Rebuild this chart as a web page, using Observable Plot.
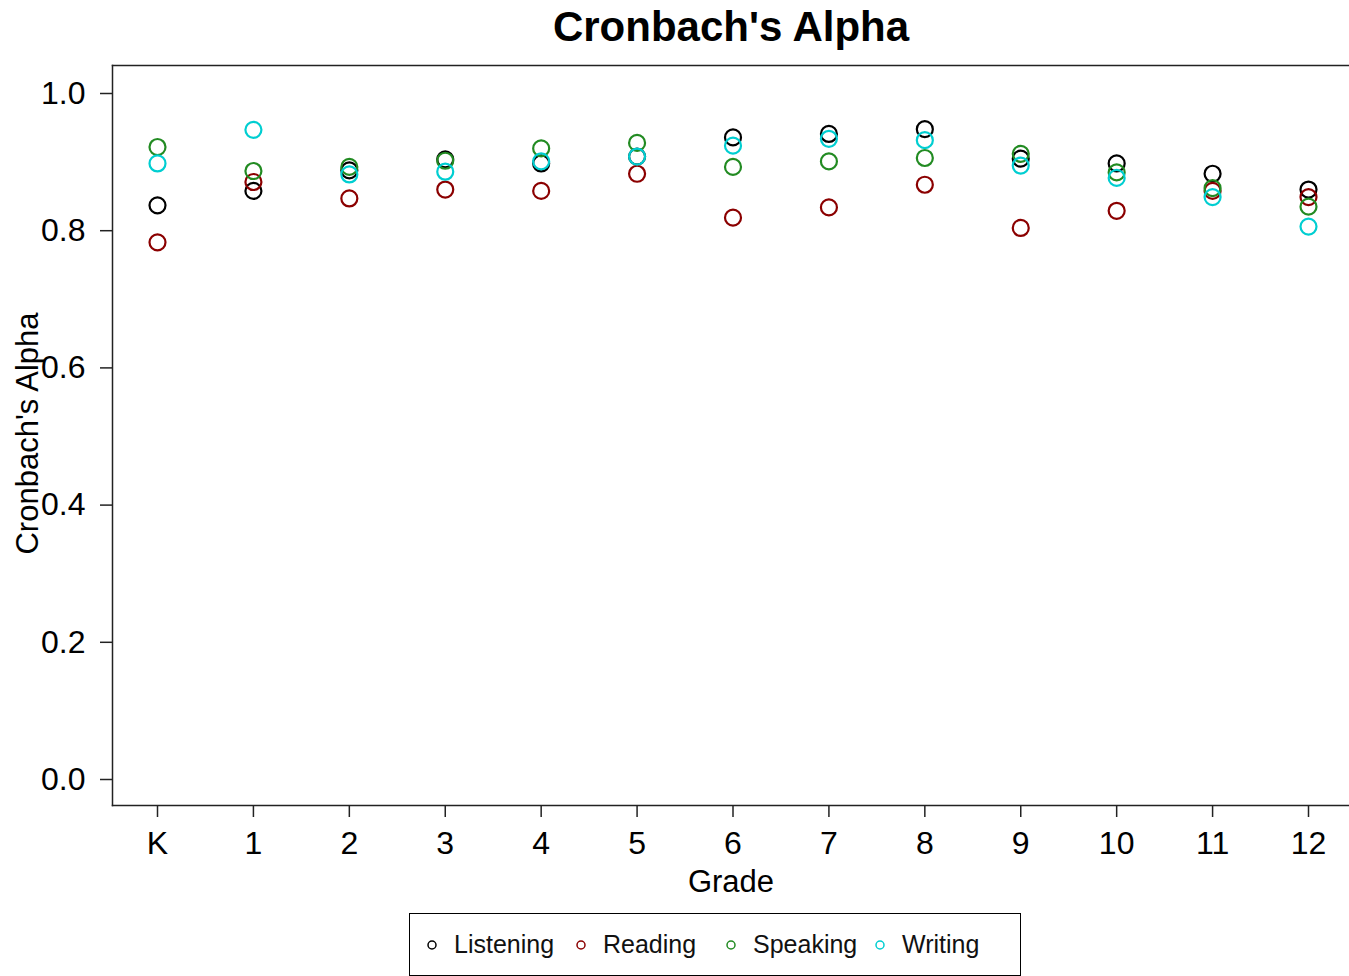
<!DOCTYPE html>
<html>
<head>
<meta charset="utf-8">
<script src="https://cdn.jsdelivr.net/npm/d3@7"></script>
<script src="https://cdn.jsdelivr.net/npm/@observablehq/plot@0.6"></script>
<style>
  html, body { margin: 0; padding: 0; background: #fff; overflow: hidden; }
  #wrap { position: relative; width: 1349px; height: 976px; font-family: "Liberation Sans", Arial, sans-serif; }
  #title { position: absolute; left: 0; width: 1462px; top: 2px; text-align: center; font-weight: bold; font-size: 42px; line-height: 50px; color: #000; }
  #chart { position: absolute; left: 0; top: 0; }
  #legend { position: absolute; left: 409px; top: 913px; width: 610px; height: 61px; border: 1.5px solid #000; font-size: 25px; color: #111; }
  .item { position: absolute; top: 0; height: 61px; display: flex; align-items: center; }
  .item svg { margin-right: 16px; }
</style>
</head>
<body>
<div id="wrap">
  <div id="chart"></div>
  <div id="title">Cronbach's Alpha</div>
  <div id="legend"></div>
</div>
<script>
const grades = ["K","1","2","3","4","5","6","7","8","9","10","11","12"];
const seriesNames = ["Listening","Reading","Speaking","Writing"];
const seriesColors = ["#000000","#8B0000","#228B22","#00CED1"];
const listening = [0.837, 0.858, 0.888, 0.904, 0.898, 0.908, 0.936, 0.941, 0.948, 0.905, 0.898, 0.883, 0.860];
const reading   = [0.783, 0.871, 0.847, 0.860, 0.858, 0.883, 0.819, 0.834, 0.867, 0.804, 0.829, 0.858, 0.849];
const speaking  = [0.922, 0.887, 0.893, 0.902, 0.920, 0.928, 0.893, 0.901, 0.906, 0.912, 0.885, 0.862, 0.835];
const writing   = [0.898, 0.947, 0.882, 0.886, 0.901, 0.908, 0.924, 0.934, 0.932, 0.895, 0.877, 0.849, 0.806];
const yTicks = [0, 0.2, 0.4, 0.6, 0.8, 1.0];

const seriesValues = [listening, reading, speaking, writing];
const data = [];
seriesNames.forEach((s, i) => {
  grades.forEach((g, j) => data.push({series: s, grade: g, value: seriesValues[i][j]}));
});

const chart = Plot.plot({
  width: 1349,
  height: 905,
  marginLeft: 112,
  marginRight: 0,
  marginTop: 65,
  marginBottom: 100,
  style: {fontFamily: "Liberation Sans, Arial, sans-serif", background: "#fff", color: "#000"},
  x: {type: "point", domain: grades, range: [157, 1308], padding: 0, round: false, label: null},
  y: {domain: [0, 1], range: [779, 93], label: null},
  color: {domain: seriesNames, range: seriesColors},
  marks: [
    Plot.frame({anchor: "top", stroke: "#222", strokeWidth: 1.5}),
    Plot.frame({anchor: "left", stroke: "#222", strokeWidth: 1.5}),
    Plot.frame({anchor: "bottom", stroke: "#222", strokeWidth: 1.5}),
    Plot.axisY({ticks: yTicks, tickSize: 12, tickPadding: 15, tickFormat: d => d.toFixed(1), fontSize: 32, stroke: "#222", strokeWidth: 1.5, label: null}),
    Plot.axisX({tickSize: 12, tickPadding: 14, fontSize: 32, stroke: "#222", strokeWidth: 1.5, label: null}),
    Plot.dot(data, {x: "grade", y: "value", stroke: "series", r: 8, strokeWidth: 2.2, fill: "none"}),
    Plot.text(["Grade"], {text: d => d, frameAnchor: "bottom", dy: 86, fontSize: 31, fill: "#000"}),
    Plot.text(["Cronbach's Alpha"], {text: d => d, frameAnchor: "left", textAnchor: "middle", dx: -84, dy: -2, rotate: -90, fontSize: 31, fill: "#000"})
  ]
});
document.getElementById("chart").appendChild(chart);

// Legend
const legend = document.getElementById("legend");
const itemLefts = [16, 165, 315, 464];
seriesNames.forEach((s, i) => {
  const item = document.createElement("div");
  item.className = "item";
  item.style.left = itemLefts[i] + "px";
  const ns = "http://www.w3.org/2000/svg";
  const svg = document.createElementNS(ns, "svg");
  svg.setAttribute("width", 12);
  svg.setAttribute("height", 12);
  const c = document.createElementNS(ns, "circle");
  c.setAttribute("cx", 6); c.setAttribute("cy", 6); c.setAttribute("r", 4);
  c.setAttribute("fill", "none"); c.setAttribute("stroke", seriesColors[i]); c.setAttribute("stroke-width", 1.5);
  svg.appendChild(c);
  item.appendChild(svg);
  const t = document.createElement("span");
  t.textContent = s;
  item.appendChild(t);
  legend.appendChild(item);
});
</script>
</body>
</html>
